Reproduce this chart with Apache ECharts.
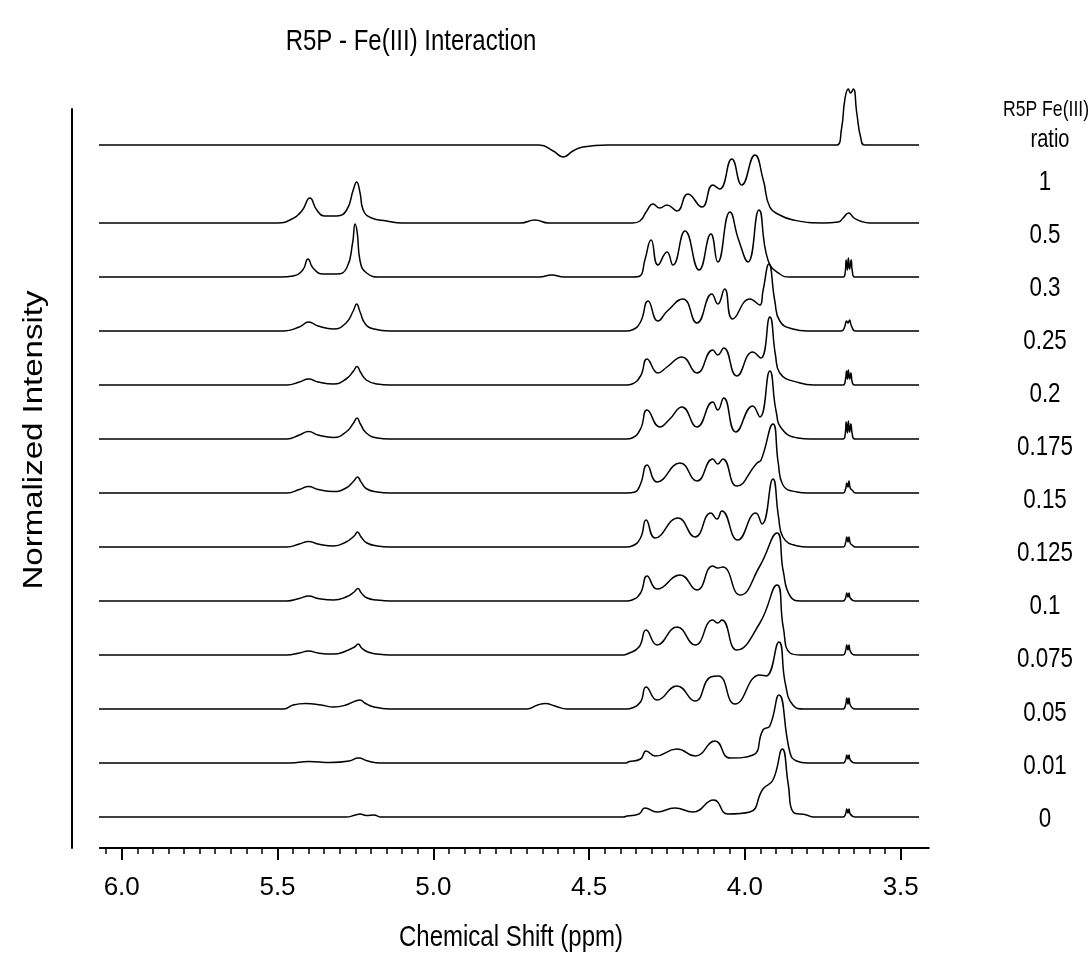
<!DOCTYPE html>
<html>
<head>
<meta charset="utf-8">
<script src="https://cdn.jsdelivr.net/npm/echarts@6/dist/echarts.min.js"></script>
<style>
  html, body { margin: 0; padding: 0; background: #fff; }
  #chart { width: 1092px; height: 972px; }
</style>
</head>
<body>
<div id="chart"></div>
<script>
// R5P : Fe(III) ratio of each trace, top to bottom
var ratios = ['1', '0.5', '0.3', '0.25', '0.2', '0.175', '0.15', '0.125', '0.1', '0.075', '0.05', '0.01', '0'];
var xTicks = [3.5, 4.0, 4.5, 5.0, 5.5, 6.0];

// spectra: [ppm, intensity above own baseline]
var r100 = [[6.085,0],[4.66,0],[4.615,-6],[4.583,-12],[4.552,-6],[4.52,-2],[4.44,0],[3.706,0],[3.69,16],[3.679,46],[3.668,56],[3.661,52],[3.652,56],[3.641,32],[3.628,7],[3.615,0],[3.441,0]];
var r50 = [[6.085,0],[5.50,0],[5.46,3],[5.422,12],[5.396,25],[5.374,13],[5.348,7],[5.31,7],[5.278,13],[5.257,33],[5.246,41],[5.235,30],[5.225,13],[5.198,5],[5.15,2],[5.10,0],[4.72,0],[4.674,3],[4.63,0],[4.36,0],[4.337,2],[4.315,12],[4.295,19],[4.273,15],[4.250,18],[4.218,12],[4.183,29],[4.138,16],[4.103,38],[4.081,34],[4.042,64],[4.010,38],[3.968,68],[3.941,43],[3.920,16],[3.888,8],[3.845,3],[3.75,0],[3.70,1],[3.685,5],[3.667,10],[3.65,5],[3.63,2],[3.60,0],[3.441,0]];
var r30 = [[6.085,0],[5.49,0],[5.45,1],[5.419,7],[5.402,18],[5.386,9],[5.354,3],[5.31,3],[5.278,9],[5.259,34],[5.251,53],[5.244,44],[5.235,16],[5.214,4],[5.17,0],[4.66,0],[4.62,2],[4.58,0],[4.36,0],[4.337,1],[4.321,17],[4.301,37],[4.279,12],[4.250,25],[4.231,12],[4.192,46],[4.147,7],[4.109,43],[4.087,15],[4.048,65],[4.020,37],[3.990,15],[3.955,67],[3.926,17],[3.888,3],[3.855,0],[3.685,0],[3.678,5],[3.675,17],[3.671,7],[3.668,19],[3.664,8],[3.659,17],[3.655,5],[3.648,0],[3.441,0]];
var r25 = [[6.085,0],[5.48,0],[5.43,4],[5.40,9],[5.37,5],[5.32,2],[5.28,8],[5.257,20],[5.246,27],[5.235,19],[5.218,7],[5.19,2],[5.14,0],[4.38,0],[4.362,1],[4.335,9],[4.311,30],[4.279,10],[4.249,20],[4.199,32],[4.154,8],[4.106,37],[4.087,27],[4.065,42],[4.039,12],[3.984,32],[3.952,26],[3.942,40],[3.923,67],[3.904,30],[3.888,10],[3.846,2],[3.80,0],[3.69,0],[3.68,4],[3.674,10],[3.669,8],[3.664,11],[3.658,5],[3.645,0],[3.441,0]];
var r20 = [[6.085,0],[5.47,0],[5.43,3],[5.40,6],[5.37,3],[5.32,1],[5.28,6],[5.256,14],[5.245,18.5],[5.234,13],[5.215,5],[5.18,1],[5.14,0],[4.38,0],[4.362,1],[4.335,9],[4.314,26],[4.279,12],[4.250,18],[4.202,28],[4.154,12],[4.103,35],[4.087,30],[4.068,37],[4.026,9],[3.975,33],[3.949,27],[3.920,68],[3.902,30],[3.888,12],[3.823,2],[3.78,0],[3.685,0],[3.677,6],[3.674,14],[3.671,6],[3.668,15],[3.664,6],[3.660,12],[3.655,2],[3.648,0],[3.441,0]];
var r175 = [[6.085,0],[5.47,0],[5.43,4],[5.40,7.5],[5.37,4],[5.32,1.5],[5.28,7],[5.256,16],[5.245,21],[5.234,15],[5.215,6],[5.18,1],[5.14,0],[4.38,0],[4.362,1],[4.335,10],[4.314,29],[4.273,12],[4.241,20],[4.202,32],[4.154,12],[4.103,37],[4.087,29],[4.068,41],[4.029,7],[3.975,33],[3.952,22],[3.920,68],[3.900,28],[3.881,10],[3.83,1],[3.79,0],[3.685,0],[3.678,5],[3.675,17],[3.671,6],[3.668,18],[3.664,7],[3.660,15],[3.655,4],[3.648,0],[3.441,0]];
var r15 = [[6.085,0],[5.47,0],[5.43,3.5],[5.40,6.5],[5.37,3.5],[5.32,1.5],[5.28,5],[5.255,12],[5.243,16],[5.232,11],[5.213,4],[5.18,1],[5.14,0],[4.38,0],[4.353,1],[4.335,9],[4.314,28],[4.282,11],[4.208,30],[4.154,12],[4.103,34],[4.087,29],[4.071,34],[4.026,7],[3.961,30],[3.948,33],[3.910,69],[3.893,30],[3.878,8],[3.833,1],[3.80,0],[3.685,0],[3.677,4],[3.673,10],[3.669,6],[3.666,12],[3.662,5],[3.656,3],[3.645,0],[3.441,0]];
var r125 = [[6.085,0],[5.47,0],[5.43,3],[5.40,5.5],[5.37,3],[5.32,1],[5.28,5],[5.254,11],[5.243,15],[5.232,10],[5.213,4],[5.18,1],[5.14,0],[4.38,0],[4.362,1],[4.335,9],[4.317,27],[4.288,9],[4.215,29],[4.160,10],[4.109,34],[4.090,28],[4.074,36],[4.023,7],[3.965,34],[3.945,23],[3.910,68],[3.892,30],[3.878,10],[3.83,1],[3.80,0],[3.685,0],[3.677,4],[3.673,10],[3.669,5],[3.666,10],[3.662,4],[3.656,2],[3.645,0],[3.441,0]];
var r10 = [[6.085,0],[5.47,0],[5.43,2.5],[5.40,5],[5.37,2.5],[5.32,1],[5.28,4],[5.254,9],[5.242,12.5],[5.231,8],[5.212,3],[5.18,1],[5.14,0],[4.38,0],[4.362,1],[4.335,8],[4.314,25],[4.282,12],[4.208,26],[4.154,11],[4.103,35],[4.087,33],[4.071,34],[4.016,6],[3.952,35],[3.897,68],[3.877,30],[3.855,5],[3.82,0],[3.685,0],[3.677,3],[3.673,8],[3.669,4],[3.666,8],[3.662,3],[3.645,0],[3.441,0]];
var r75 = [[6.085,0],[5.47,0],[5.43,2],[5.40,4],[5.37,2],[5.32,1],[5.28,4],[5.253,8],[5.241,11],[5.230,7],[5.21,3],[5.18,1],[5.14,0],[4.39,0],[4.378,1],[4.34,8],[4.317,25],[4.282,10],[4.218,28],[4.160,10],[4.103,35],[4.088,32],[4.074,35],[4.026,5],[3.952,32],[3.897,70],[3.877,28],[3.855,2],[3.82,0],[3.685,0],[3.677,4],[3.673,10],[3.669,5],[3.666,10],[3.662,4],[3.645,0],[3.441,0]];
var r5 = [[6.085,0],[5.48,0],[5.45,4],[5.41,5.5],[5.36,4],[5.32,2],[5.28,4],[5.25,8],[5.235,9],[5.22,6],[5.19,2],[5.14,0],[4.70,0],[4.665,4],[4.64,5.5],[4.61,3],[4.57,0],[4.38,0],[4.362,1],[4.335,7],[4.317,22],[4.282,9],[4.218,23],[4.160,8],[4.110,32],[4.085,33],[4.032,5],[3.952,34],[3.932,33],[3.891,67],[3.870,25],[3.846,4],[3.81,0],[3.685,0],[3.677,4],[3.673,11],[3.669,5],[3.666,11],[3.662,4],[3.645,0],[3.441,0]];
var r1 = [[6.085,0],[5.46,0],[5.40,1.5],[5.33,0.5],[5.27,2],[5.24,5],[5.21,2],[5.17,0],[4.38,0],[4.375,1],[4.335,4],[4.317,12],[4.288,7],[4.218,14],[4.160,7],[4.096,22],[4.048,5],[3.974,8],[3.942,33],[3.920,37],[3.891,68],[3.855,10],[3.834,2],[3.80,0],[3.685,0],[3.677,3],[3.673,8],[3.669,4],[3.666,8],[3.662,3],[3.645,0],[3.441,0]];
var r0 = [[6.085,0],[5.28,0],[5.25,2],[5.235,3],[5.215,1.5],[5.19,2],[5.17,0],[4.39,0],[4.378,1],[4.34,3],[4.321,9],[4.282,5],[4.225,9],[4.167,5],[4.100,17],[4.055,3],[3.984,5],[3.942,28],[3.910,37],[3.880,68],[3.861,33],[3.845,5],[3.802,2],[3.78,0],[3.685,0],[3.677,3],[3.673,8],[3.669,4],[3.666,8],[3.662,3],[3.645,0],[3.441,0]];

var spectra = [r100, r50, r30, r25, r20, r175, r15, r125, r10, r75, r5, r1, r0];

// layout
var W = 1092, H = 972;
var pxPerPpm = 311.6, x6 = 121.7;          // 6.0 ppm sits at x6
function xOf(p) { return x6 + (6 - p) * pxPerPpm; }
var gridTop = 109, gridBottom = 124;
var yMax = H - gridTop - gridBottom;       // 1 unit = 1 px
var base0 = 31, step = 54, topBase = 703;  // baselines from bottom
var font = '"Liberation Sans", Arial, sans-serif';
var squeeze = 0.8;                          // the original text is horizontally narrow

var chart = echarts.init(document.getElementById('chart'), null, { renderer: 'canvas' });

var series = spectra.map(function (s, i) {
  var n = spectra.length;
  var off = i === 0 ? topBase : base0 + (n - 1 - i) * step;
  return {
    type: 'line',
    name: ratios[i],
    xAxisIndex: 0,
    yAxisIndex: 0,
    data: s.map(function (d) { return [d[0], d[1] + off]; }),
    showSymbol: false,
    smooth: 0.5,
    clip: false,
    silent: true,
    lineStyle: { color: '#000', width: 1.5 }
  };
});

function label(text, x, y, size, extra) {
  var el = {
    type: 'text', x: x, y: y, scaleX: squeeze,
    style: { text: text, font: size + 'px ' + font, fill: '#000', align: 'center', verticalAlign: 'middle', textAlign: 'center', textVerticalAlign: 'middle' }
  };
  if (extra) { for (var k in extra) el[k] = extra[k]; }
  return el;
}

var graphic = [
  label('R5P - Fe(III) Interaction', 411, 42, 30),
  label('Chemical Shift (ppm)', 511, 938, 30),
  label('Normalized Intensity', 35, 440, 33, { rotation: Math.PI / 2, scaleX: 1, scaleY: 0.82 }),
  label('R5P Fe(III)', 1046, 110, 22),
  label('ratio', 1050, 140, 25)
];
ratios.forEach(function (r, i) {
  graphic.push(label(r, 1045, 182 + i * 53.08, 28));
});

var hidden = { show: false };
var option = {
  backgroundColor: '#ffffff',
  animation: false,
  grid: [
    { left: xOf(6.07), right: W - xOf(3.41), top: gridTop, bottom: gridBottom },
    { left: xOf(6.05), right: W - xOf(3.5), top: gridTop, bottom: gridBottom },
    { left: xOf(6.0), right: W - xOf(3.5), top: gridTop, bottom: gridBottom }
  ],
  xAxis: [
    {
      gridIndex: 0, type: 'value', inverse: true, min: 3.41, max: 6.07,
      axisLine: { show: true, lineStyle: { color: '#000', width: 2 } },
      axisTick: hidden, axisLabel: hidden, splitLine: hidden
    },
    {
      gridIndex: 1, type: 'value', inverse: true, min: 3.5, max: 6.05, interval: 0.05,
      axisLine: hidden,
      axisTick: { show: true, length: 6, lineStyle: { color: '#000', width: 1.5 } },
      axisLabel: hidden, splitLine: hidden
    },
    {
      gridIndex: 2, type: 'value', inverse: true, min: xTicks[0], max: xTicks[xTicks.length - 1], interval: 0.5,
      axisLine: hidden,
      axisTick: { show: true, length: 12, lineStyle: { color: '#000', width: 2 } },
      axisLabel: {
        show: true, margin: 27, color: '#000', fontSize: 26, fontFamily: font,
        formatter: function (v) { return v.toFixed(1); }
      },
      splitLine: hidden
    }
  ],
  yAxis: [
    {
      gridIndex: 0, type: 'value', min: 0, max: yMax, offset: 28,
      axisLine: { show: true, lineStyle: { color: '#000', width: 2 } },
      axisTick: hidden, axisLabel: hidden, splitLine: hidden
    },
    { gridIndex: 1, type: 'value', show: false, splitLine: hidden },
    { gridIndex: 2, type: 'value', show: false, splitLine: hidden }
  ],
  graphic: graphic,
  series: series
};

chart.setOption(option);
</script>
</body>
</html>
